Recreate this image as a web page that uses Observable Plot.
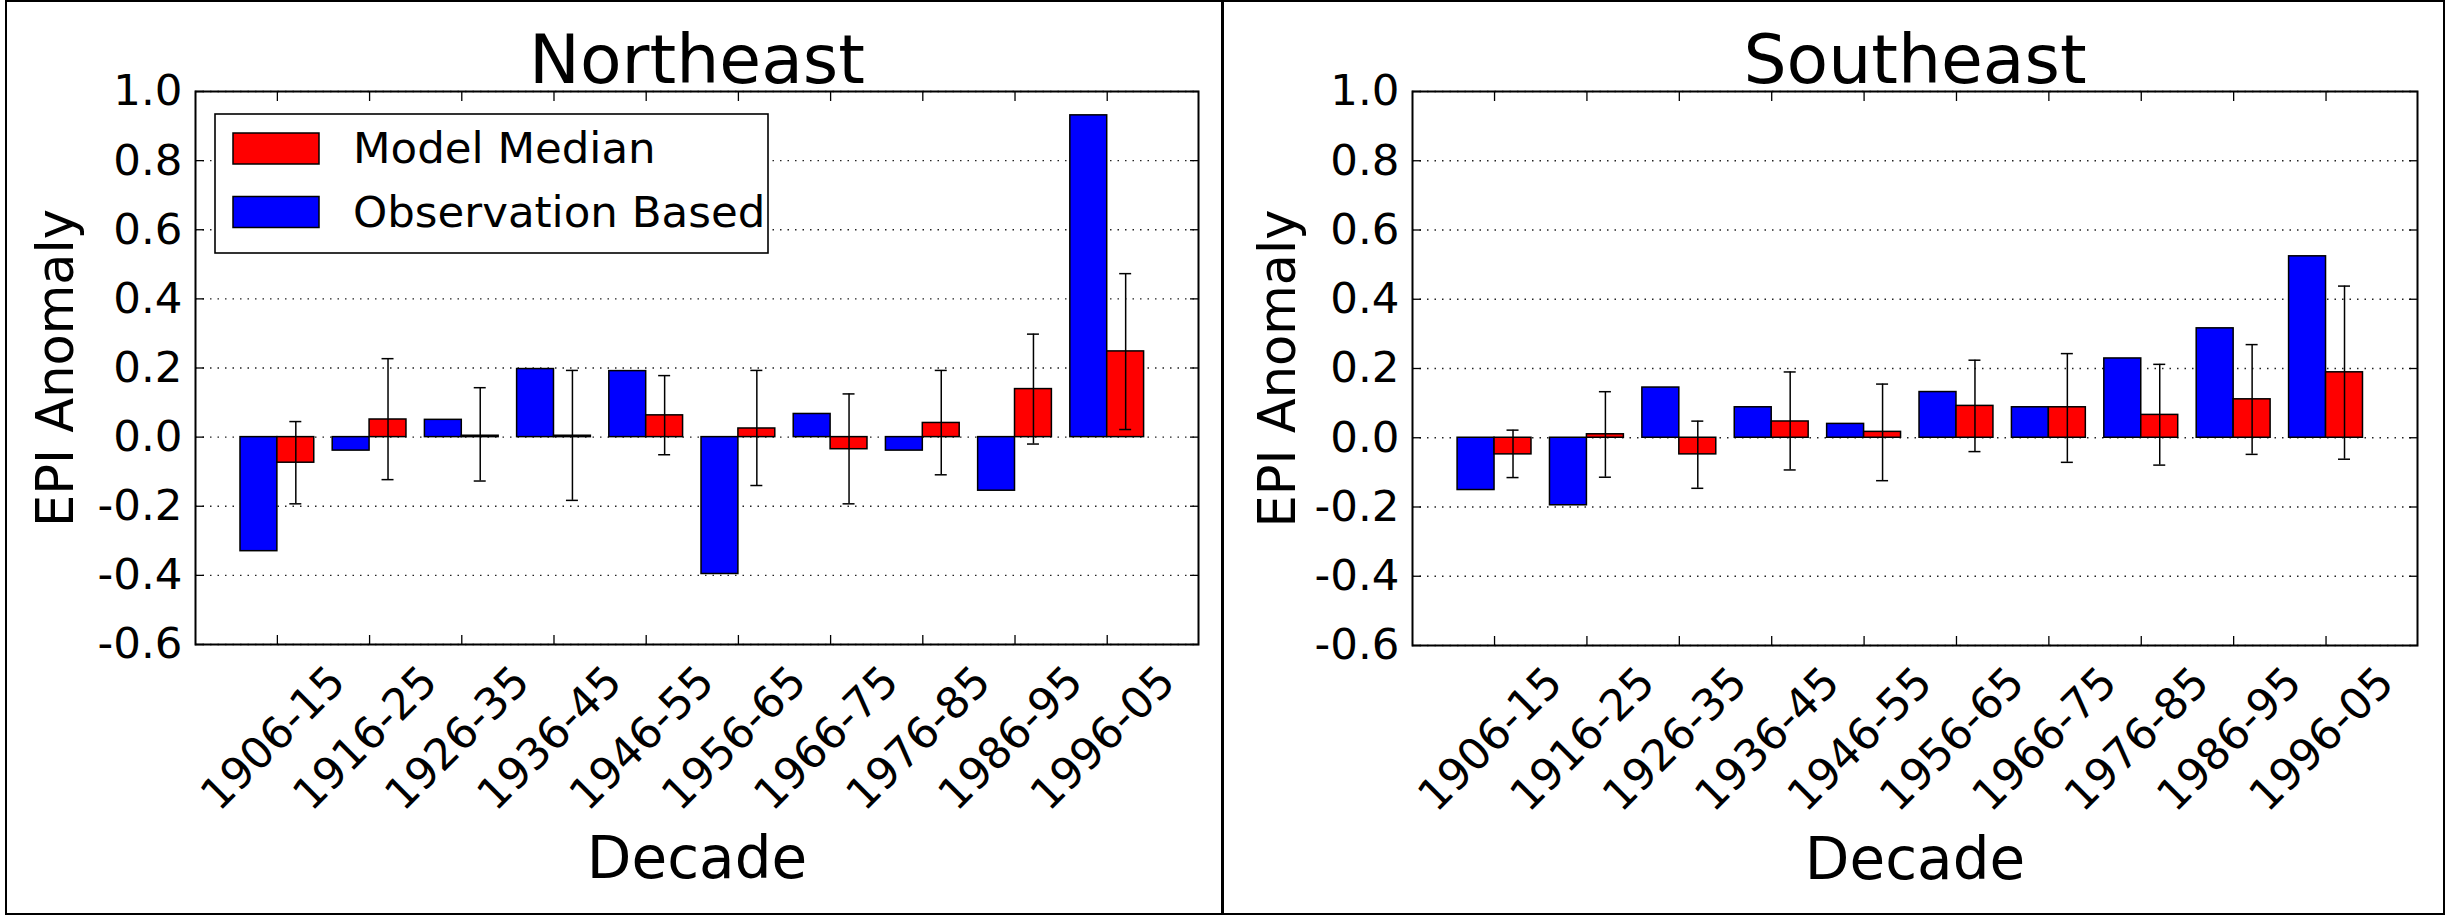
<!DOCTYPE html>
<html>
<head>
<meta charset="utf-8">
<script src="https://cdn.jsdelivr.net/npm/d3@7"></script>
<script src="https://cdn.jsdelivr.net/npm/@observablehq/plot@0.6"></script>
<style>
  html, body { margin: 0; padding: 0; background: white; overflow: hidden; }
  #root { position: relative; width: 2446px; height: 915px; background: white; font-family: "DejaVu Sans", sans-serif; }
  .panelsvg { position: absolute; top: 0; }
  .border { position: absolute; box-sizing: border-box; border: 2px solid #000; pointer-events: none; }
</style>
</head>
<body>
<div id="root"></div>
<script>
// ---- data ----
const decades = ["1906-15","1916-25","1926-35","1936-45","1946-55","1956-65","1966-75","1976-85","1986-95","1996-05"];
const yTicks = [-0.6, -0.4, -0.2, 0.0, 0.2, 0.4, 0.6, 0.8, 1.0];

const neObs    = [-0.330, -0.039, 0.050, 0.197, 0.191, -0.396, 0.067, -0.039, -0.155, 0.931];
const neModel  = [-0.074, 0.051, 0.004, 0.004, 0.063, 0.025, -0.035, 0.041, 0.139, 0.248];
const neErrLo  = [-0.193, -0.123, -0.127, -0.183, -0.051, -0.140, -0.193, -0.109, -0.020, 0.022];
const neErrHi  = [0.045, 0.227, 0.143, 0.193, 0.178, 0.193, 0.125, 0.193, 0.298, 0.473];

const seObs    = [-0.151, -0.195, 0.145, 0.088, 0.040, 0.132, 0.088, 0.229, 0.316, 0.524];
const seModel  = [-0.048, 0.010, -0.048, 0.047, 0.017, 0.092, 0.088, 0.066, 0.111, 0.189];
const seErrLo  = [-0.115, -0.114, -0.146, -0.093, -0.124, -0.040, -0.071, -0.079, -0.048, -0.062];
const seErrHi  = [0.022, 0.133, 0.048, 0.190, 0.155, 0.224, 0.243, 0.212, 0.269, 0.438];

const seriesNames = ["Model Median", "Observation Based"];
const seriesColors = ["#ff0000", "#0000ff"];

const root = document.getElementById("root");
const FONT = "'DejaVu Sans', 'Bitstream Vera Sans', sans-serif";

function panel({title, obs, model, lo, hi, left, width, marginLeft, marginRight, marginBottom}) {
  const rows = decades.map((d, i) => ({i, decade: d, obs: obs[i], model: model[i], lo: lo[i], hi: hi[i]}));
  const bw = 0.4, cap = 0.065;
  const svg = Plot.plot({
    width, height: 915,
    marginLeft, marginRight, marginTop: 91, marginBottom,
    x: {domain: [-0.888, 9.99]},
    y: {domain: [-0.6, 1.0]},
    style: `background: transparent; font-family: ${FONT}; max-width: none; overflow: visible; color: black;`,
    marks: [
      Plot.gridY(yTicks, {stroke: "#222", strokeOpacity: 1, strokeWidth: 1.3, strokeDasharray: "1.5,6"}),
      Plot.rect(rows, {x1: d => d.i - bw, x2: d => d.i, y1: 0, y2: "obs", fill: seriesColors[1], stroke: "black", strokeWidth: 1.5}),
      Plot.rect(rows, {x1: d => d.i, x2: d => d.i + bw, y1: 0, y2: "model", fill: seriesColors[0], stroke: "black", strokeWidth: 1.5}),
      Plot.ruleX(rows, {x: d => d.i + bw / 2, y1: "lo", y2: "hi", stroke: "black", strokeWidth: 1.5}),
      Plot.ruleY(rows, {y: "lo", x1: d => d.i + bw / 2 - cap, x2: d => d.i + bw / 2 + cap, stroke: "black", strokeWidth: 1.5}),
      Plot.ruleY(rows, {y: "hi", x1: d => d.i + bw / 2 - cap, x2: d => d.i + bw / 2 + cap, stroke: "black", strokeWidth: 1.5}),
      Plot.frame({stroke: "black", strokeWidth: 2}),
      Plot.axisX(d3.range(decades.length), {anchor: "bottom", tickSize: -9, fill: "none", label: null, strokeWidth: 1.3}),
      Plot.axisX(d3.range(decades.length), {anchor: "top", tickSize: -9, fill: "none", label: null, strokeWidth: 1.3}),
      Plot.axisY(yTicks, {anchor: "right", tickSize: -9, fill: "none", label: null, strokeWidth: 1.3}),
      Plot.axisY(yTicks, {anchor: "left", tickSize: -9, fill: "none", label: null, strokeWidth: 1.3}),
      Plot.axisY(yTicks, {anchor: "left", tickSize: 0, tickPadding: 13, tickFormat: d => d.toFixed(1), fontSize: 43.5, label: null, fill: "black"}),
      Plot.text(rows, {x: "i", text: "decade", frameAnchor: "bottom", rotate: -45, textAnchor: "middle", lineAnchor: "middle", dy: 94, dx: -4, fontSize: 43.5, fill: "black"}),
      Plot.text([title], {text: d => d, frameAnchor: "top", lineAnchor: "bottom", dy: -9, fontSize: 68, fill: "black"}),
      Plot.text(["Decade"], {text: d => d, frameAnchor: "bottom", lineAnchor: "bottom", dy: 233, fontSize: 58, fill: "black"}),
      Plot.text(["EPI Anomaly"], {text: d => d, frameAnchor: "left", rotate: -90, textAnchor: "middle", lineAnchor: "bottom", dx: -(marginLeft - 72 + (left > 0 ? 0 : 0)), fontSize: 51, fill: "black"})
    ]
  });
  svg.classList.add("panelsvg");
  svg.style.left = left + "px";
  root.appendChild(svg);
}

panel({title: "Northeast", obs: neObs, model: neModel, lo: neErrLo, hi: neErrHi,
       left: 0, width: 1222, marginLeft: 195, marginRight: 24, marginBottom: 271});
panel({title: "Southeast", obs: seObs, model: seModel, lo: seErrLo, hi: seErrHi,
       left: 1222, width: 1224, marginLeft: 190, marginRight: 29, marginBottom: 270});

// ---- legend (inside the Northeast panel) ----
const leg = d3.select(root).append("svg")
  .attr("width", 556).attr("height", 142)
  .style("position", "absolute").style("left", "214px").style("top", "113px")
  .style("font-family", FONT);
leg.append("rect").attr("x", 1).attr("y", 1).attr("width", 553).attr("height", 139)
  .attr("fill", "white").attr("stroke", "black").attr("stroke-width", 1.6);
const rowsLeg = seriesNames.map((n, k) => ({n, c: seriesColors[k], k}));
const g = leg.selectAll("g").data(rowsLeg).join("g")
  .attr("transform", d => `translate(0, ${d.k * 63.5})`);
g.append("rect").attr("x", 19).attr("y", 20).attr("width", 86).attr("height", 31)
  .attr("fill", d => d.c).attr("stroke", "black").attr("stroke-width", 1.5);
g.append("text").attr("x", 139).attr("y", 50).attr("font-size", 43.5).attr("fill", "black").text(d => d.n);

// ---- panel borders ----
const b1 = document.createElement("div");
b1.className = "border";
Object.assign(b1.style, {left: "5px", top: "0px", width: "1219px", height: "915px"});
root.appendChild(b1);
const b2 = document.createElement("div");
b2.className = "border";
Object.assign(b2.style, {left: "1221px", top: "0px", width: "1224px", height: "915px"});
root.appendChild(b2);
</script>
</body>
</html>
